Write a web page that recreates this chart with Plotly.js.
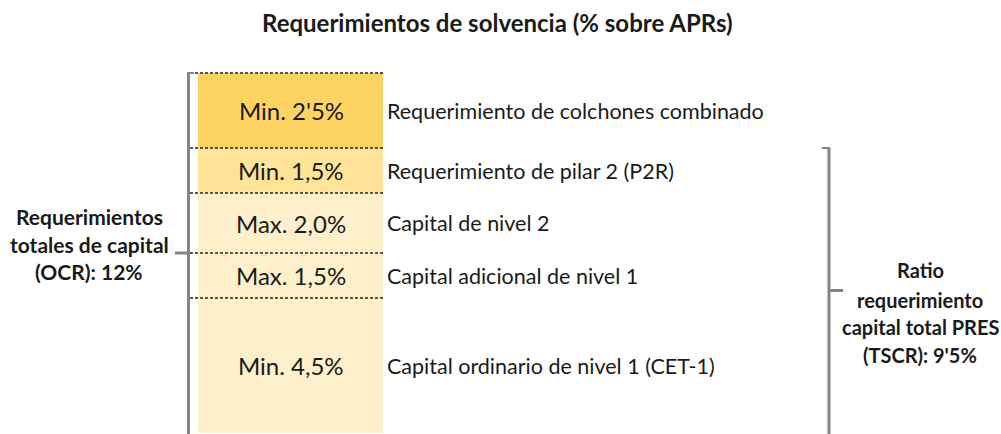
<!DOCTYPE html>
<html>
<head>
<meta charset="utf-8">
<script src="https://cdn.plot.ly/plotly-3.0.1.min.js"></script>
<style>html,body{margin:0;padding:0;background:#fff;}#chart{width:1001px;height:434px;}</style>
</head>
<body>
<div id="chart"></div>
<script>
// Data (bottom to top)
const components = ["Capital ordinario de nivel 1 (CET-1)", "Capital adicional de nivel 1", "Capital de nivel 2", "Requerimiento de pilar 2 (P2R)", "Requerimiento de colchones combinado"];
const values = [4.5, 1.5, 2.0, 1.5, 2.5];
const barLabels = ["Min. 4,5%", "Max. 1,5%", "Max. 2,0%", "Min. 1,5%", "Min. 2'5%"];
const colors = ["#FFF0CC", "#FFF0CC", "#FFF0CC", "#FFE497", "#FDD462"];
const ocrTotal = 12;
const tscrTotal = 9.5;
const ocrLines = ["Requerimientos", "totales de capital", "(OCR): 12%"];
const tscrLines = ["Ratio", "requerimiento", "capital total PRES", "(TSCR): 9'5%"];
const titleText = "Requerimientos de solvencia (% sobre APRs)";

const W = 1001, H = 434;
const pxPerUnit = 30;
const yMax = 433 / pxPerUnit;
const yMin = -1 / pxPerUnit;
const px = v => v / W;                 // pixel x -> paper x
const yAt = p => yMax - p / pxPerUnit; // pixel y -> data y

const FONT = "Lato, 'Open Sans', sans-serif";
const TXT = "#1a1a1a";

const traces = values.map((v, i) => ({
  type: "bar",
  x: ["OCR"],
  y: [v],
  name: components[i],
  marker: {color: colors[i], line: {width: 0}},
  hoverinfo: "skip",
  showlegend: false
}));

const cum = [];
let s = 0;
values.forEach(v => { cum.push(s); s += v; });

const shapes = [];
const annotations = [];

// dotted boundaries
values.forEach((v, i) => {
  const top = cum[i] + v;
  shapes.push({type: "line", xref: "paper", yref: "y", x0: px(190), x1: px(383), y0: top, y1: top,
    line: {color: "#222", width: 1.6, dash: "3px,2px"}});
});

// segment labels
values.forEach((v, i) => {
  const mid = cum[i] + v / 2;
  annotations.push({xref: "paper", yref: "y", x: px(291), y: mid, text: barLabels[i], showarrow: false,
    xanchor: "center", yanchor: "middle", font: {family: FONT, size: 24, color: TXT}});
  annotations.push({xref: "paper", yref: "y", x: px(385), y: mid, text: components[i], showarrow: false,
    xanchor: "left", yanchor: "middle", font: {family: FONT, size: 21.5, color: TXT}});
});

// left bracket (OCR)
const gray = "#858585";
shapes.push({type: "line", xref: "paper", yref: "y", x0: px(188.5), x1: px(188.5), y0: yMin - 1, y1: ocrTotal, line: {color: gray, width: 3}});
shapes.push({type: "line", xref: "paper", yref: "y", x0: px(187), x1: px(194), y0: ocrTotal, y1: ocrTotal, line: {color: gray, width: 2}});
shapes.push({type: "line", xref: "paper", yref: "y", x0: px(175), x1: px(188), y0: ocrTotal / 2, y1: ocrTotal / 2, line: {color: gray, width: 3}});

// right bracket (TSCR)
shapes.push({type: "line", xref: "paper", yref: "y", x0: px(829), x1: px(829), y0: yMin - 1, y1: tscrTotal, line: {color: gray, width: 3}});
shapes.push({type: "line", xref: "paper", yref: "y", x0: px(822), x1: px(830), y0: tscrTotal, y1: tscrTotal, line: {color: gray, width: 2}});
shapes.push({type: "line", xref: "paper", yref: "y", x0: px(829), x1: px(843), y0: tscrTotal / 2, y1: tscrTotal / 2, line: {color: gray, width: 3}});

// left text
const ocrY = [216, 244, 271];
ocrLines.forEach((t, i) => annotations.push({xref: "paper", yref: "y", x: px(89), y: yAt(ocrY[i]), text: "<b>" + t + "</b>",
  showarrow: false, xanchor: "center", yanchor: "middle", font: {family: FONT, size: 21, color: TXT}}));

// right text
const tscrY = [270, 300, 327, 355];
tscrLines.forEach((t, i) => annotations.push({xref: "paper", yref: "y", x: px(920), y: yAt(tscrY[i]), text: "<b>" + t + "</b>",
  showarrow: false, xanchor: "center", yanchor: "middle", font: {family: FONT, size: 20, color: TXT}}));

// title
annotations.push({xref: "paper", yref: "y", x: px(497), y: yAt(22), text: "<b>" + titleText + "</b>", showarrow: false,
  xanchor: "center", yanchor: "middle", font: {family: FONT, size: 24, color: TXT}});

const layout = {
  width: W, height: H,
  margin: {l: 0, r: 0, t: 0, b: 0, pad: 0},
  paper_bgcolor: "#fff", plot_bgcolor: "#fff",
  barmode: "stack", bargap: 0,
  xaxis: {domain: [px(198), px(383)], visible: false, fixedrange: true},
  yaxis: {range: [yMin, yMax], visible: false, fixedrange: true},
  shapes: shapes,
  annotations: annotations,
  showlegend: false
};

Plotly.newPlot("chart", traces, layout, {displayModeBar: false, staticPlot: true});
</script>
</body>
</html>
